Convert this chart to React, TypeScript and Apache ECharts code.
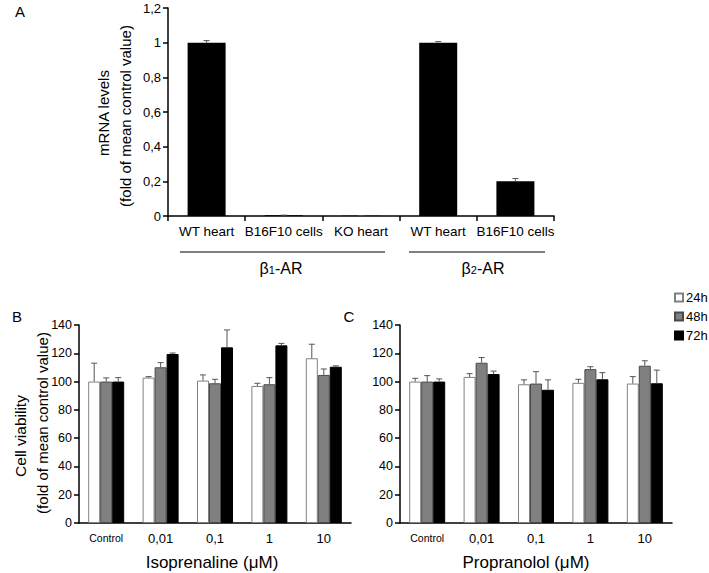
import React, { useEffect, useRef } from "react";
import * as echarts from "echarts";

const catsA = ["WT heart", "B16F10 cells", "KO heart", "WT heart", "B16F10 cells"];
const valsA = [1.0, 0.004, 0.001, 1.0, 0.2];
const sdA = [0.012, 0.001, 0.0005, 0.006, 0.016];

const catsBC = ["Control", "0,01", "0,1", "1", "10"];
const seriesNames = ["24h", "48h", "72h"];

const b24 = [100, 102.8, 100.7, 96.9, 116.5];
const b24sd = [13, 0.7, 4, 1.9, 9.9];
const b48 = [100, 110.1, 98.8, 98.1, 104.7];
const b48sd = [2.6, 3.3, 2.8, 4.7, 4.2];
const b72 = [100, 119.5, 124.2, 125.6, 110.5];
const b72sd = [2.8, 0.7, 12.3, 1.4, 0.6];

const c24 = [100, 103.3, 98.1, 99.1, 98.6];
const c24sd = [2.3, 2.3, 3.1, 2.5, 4.9];
const c48 = [100, 113.3, 98.6, 108.8, 111.2];
const c48sd = [4.2, 3.7, 8.4, 1.7, 3.5];
const c72 = [100, 105.3, 94.2, 101.6, 98.8];
const c72sd = [1.9, 2.1, 7, 4.7, 9.3];

const FONT = "Liberation Sans, Arial, sans-serif";
const fills = ["#ffffff", "#808080", "#000000"];
const borders = ["#808080", "#4a4a4a", "#000000"];

function errSeries(xi: number, yi: number, vals: number[], sds: number[], offset: number, name: string) {
  return {
    type: "custom",
    name: name + "_err",
    xAxisIndex: xi,
    yAxisIndex: yi,
    z: 5,
    silent: true,
    data: vals.map((v, i) => [i, v, v + sds[i]]),
    encode: { x: 0, y: [1, 2] },
    renderItem: (params: any, api: any) => {
      const x = api.value(0);
      const p0 = api.coord([x, api.value(1)]);
      const p1 = api.coord([x, api.value(2)]);
      const cx = p0[0] + offset;
      const st = { stroke: "#555", lineWidth: 1 };
      return {
        type: "group",
        children: [
          { type: "line", shape: { x1: cx, y1: p0[1], x2: cx, y2: p1[1] }, style: st },
          { type: "line", shape: { x1: cx - 3, y1: p1[1], x2: cx + 3, y2: p1[1] }, style: st },
        ],
      };
    },
  };
}

const axisLine = { show: true, lineStyle: { color: "#000", width: 1.5 } };
const axisTick = { show: true, length: 5, lineStyle: { color: "#000", width: 1.5 } };

export default function App() {
  const ref = useRef<HTMLDivElement>(null);
  useEffect(() => {
    document.body.style.margin = "0";
    const chart = echarts.init(ref.current!, null, { renderer: "svg" });
    const fmtA = (v: number) => Number(v.toFixed(1)).toString().replace(".", ",");
    const bcX = (idx: number) => ({
      type: "category",
      gridIndex: idx,
      data: catsBC,
      axisLine,
      axisTick: { show: false },
      axisLabel: {
        interval: 0,
        color: "#000",
        fontFamily: FONT,
        fontSize: 13,
        margin: 9,
        formatter: (v: string) => (v === "Control" ? "{s|Control}" : v),
        rich: { s: { fontSize: 10.5, fontFamily: FONT, color: "#000" } },
      },
    });
    const bcY = (idx: number) => ({
      type: "value",
      gridIndex: idx,
      min: 0,
      max: 140,
      interval: 20,
      splitLine: { show: false },
      axisLine,
      axisTick,
      axisLabel: { color: "#000", fontFamily: FONT, fontSize: 12.5, margin: 7 },
    });
    const barSeries: any[] = [];
    const groups = [
      [b24, b48, b72],
      [c24, c48, c72],
    ];
    const sds = [
      [b24sd, b48sd, b72sd],
      [c24sd, c48sd, c72sd],
    ];
    groups.forEach((g, gi) => {
      g.forEach((vals, si) => {
        barSeries.push({
          type: "bar",
          name: seriesNames[si],
          xAxisIndex: gi + 1,
          yAxisIndex: gi + 1,
          data: vals,
          barWidth: 12,
          barGap: "0%",
          itemStyle: { color: fills[si], borderColor: borders[si], borderWidth: 1 },
        });
      });
    });
    groups.forEach((g, gi) => {
      g.forEach((vals, si) => {
        barSeries.push(errSeries(gi + 1, gi + 1, vals, sds[gi][si], (si - 1) * 12, seriesNames[si]));
      });
    });

    const txt = (x: number, y: number, text: string, size: number, extra: any = {}) => ({
      type: "text",
      x,
      y,
      style: {
        text,
        fontFamily: FONT,
        fontSize: size,
        fill: "#000",
        textAlign: "center",
        textVerticalAlign: "middle",
        ...extra,
      },
    });
    const beta = (x: number, d: string) => ({
      type: "text",
      x,
      y: 268,
      style: {
        text: "\u03b2{s|" + d + "}-AR",
        rich: { s: { fontSize: 11, fontFamily: FONT, fill: "#000", padding: [4, 0, 0, 0] } },
        fontFamily: FONT,
        fontSize: 16,
        fill: "#000",
        textAlign: "center",
        textVerticalAlign: "middle",
      },
    });

    chart.setOption({
      animation: false,
      backgroundColor: "#fff",
      grid: [
        { left: 168, top: 8, width: 386, height: 208 },
        { left: 79, top: 325, width: 272, height: 198 },
        { left: 400, top: 325, width: 272, height: 198 },
      ],
      legend: {
        data: seriesNames,
        orient: "vertical",
        left: 674,
        top: 291,
        itemWidth: 8,
        itemHeight: 8,
        itemGap: 6,
        padding: 0,
        icon: "rect",
        textStyle: { fontFamily: FONT, fontSize: 13, color: "#000", padding: [0, 0, 0, -2] },
        selectedMode: false,
      },
      xAxis: [
        {
          type: "category",
          gridIndex: 0,
          data: catsA,
          axisLine,
          axisTick,
          axisLabel: { interval: 0, color: "#000", fontFamily: FONT, fontSize: 13.5, margin: 8 },
        },
        bcX(1),
        bcX(2),
      ],
      yAxis: [
        {
          type: "value",
          gridIndex: 0,
          min: 0,
          max: 1.2,
          interval: 0.2,
          splitLine: { show: false },
          axisLine,
          axisTick,
          axisLabel: { color: "#000", fontFamily: FONT, fontSize: 13, margin: 7, formatter: fmtA },
        },
        bcY(1),
        bcY(2),
      ],
      series: [
        {
          type: "bar",
          name: "mRNA",
          xAxisIndex: 0,
          yAxisIndex: 0,
          data: valsA,
          barWidth: 38,
          itemStyle: { color: "#000" },
        },
        errSeries(0, 0, valsA, sdA, 0, "mRNA"),
        ...barSeries,
      ],
      graphic: [
        txt(20, 11, "A", 15),
        txt(17, 316, "B", 15),
        txt(349, 316, "C", 15),
        { ...txt(103, 113, "mRNA levels", 15), rotation: Math.PI / 2 },
        { ...txt(125, 116, "(fold of mean control value)", 15), rotation: Math.PI / 2 },
        { ...txt(20, 436, "Cell viability", 15.5), rotation: Math.PI / 2 },
        { ...txt(42, 423, "(fold of mean control value)", 15), rotation: Math.PI / 2 },
        txt(212, 562, "Isoprenaline (\u03bcM)", 17),
        txt(526, 562, "Propranolol (\u03bcM)", 17),
        { type: "line", shape: { x1: 180, y1: 252, x2: 385, y2: 252 }, style: { stroke: "#000", lineWidth: 1 } },
        { type: "line", shape: { x1: 409, y1: 252, x2: 545, y2: 252 }, style: { stroke: "#000", lineWidth: 1 } },
        beta(281, "1"),
        beta(483, "2"),
      ],
    });
    return () => chart.dispose();
  }, []);
  return <div ref={ref} style={{ width: 709, height: 573 }} />;
}
